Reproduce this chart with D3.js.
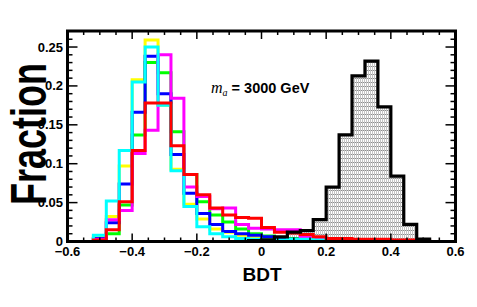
<!DOCTYPE html>
<html>
<head>
<meta charset="utf-8">
<script src="https://cdn.jsdelivr.net/npm/d3@7"></script>
<style>
  body { margin: 0; background: #fff; }
  text { font-family: "Liberation Sans", Arial, sans-serif; font-weight: bold; }
</style>
</head>
<body>
<div id="chart"></div>
<script>
//Histogram binning: 30 bins of 0.04 between -0.6 and 0.6
const xMin = -0.6, binWidth = 0.04

//Fractions per bin (bin 0 = [-0.6,-0.56])
const yellowVals  = [0,0,0.006,0.032,0.097,0.208,0.259,0.175,0.093,0.048,0.029,0.016,0.012,0.008,0.006,0.004,0.003,0.002,0.002,0.001,0,0,0,0,0,0,0,0,0,0]
const greenVals   = [0,0,0.002,0.010,0.047,0.137,0.230,0.217,0.141,0.086,0.051,0.034,0.025,0.016,0.010,0.007,0.005,0.004,0.002,0.001,0,0,0,0,0,0,0,0,0,0]
const blueVals    = [0,0,0.004,0.024,0.074,0.166,0.238,0.190,0.112,0.062,0.036,0.022,0.013,0.010,0.008,0.006,0.004,0.003,0.002,0.001,0.001,0,0,0,0,0,0,0,0,0]
const magentaVals = [0,0,0.003,0.028,0.040,0.113,0.143,0.240,0.184,0.070,0.058,0.042,0.043,0.022,0.017,0.016,0.015,0.015,0.006,0.003,0.002,0.001,0,0,0,0,0,0,0,0]
const cyanVals    = [0,0,0.008,0.052,0.117,0.205,0.250,0.175,0.091,0.045,0.019,0.010,0.006,0.004,0.003,0.002,0.002,0.003,0.003,0.002,0.001,0,0,0,0,0,0,0,0,0]
const redVals     = [0,0,0.002,0.015,0.051,0.117,0.178,0.178,0.123,0.086,0.060,0.043,0.034,0.031,0.030,0.018,0.012,0.011,0.009,0.006,0.004,0.004,0.003,0.003,0.003,0.002,0.002,0.001,0,0]
const signalVals  = [0,0,0,0,0,0,0,0,0,0,0,0,0,0,0.001,0.002,0.006,0.012,0.014,0.028,0.070,0.137,0.213,0.232,0.173,0.084,0.022,0.003,0,0]

//background draw order, signal last
const bkgSeries = [
  {name: "yellow", vals: yellowVals, color: "#ffff00"},
  {name: "green", vals: greenVals, color: "#00ff00"},
  {name: "blue", vals: blueVals, color: "#0000ff"},
  {name: "magenta", vals: magentaVals, color: "#ff00ff"},
  {name: "cyan", vals: cyanVals, color: "#00ffff"},
  {name: "red", vals: redVals, color: "#ff0000"}
]

const xTicks = [-0.6, -0.4, -0.2, 0, 0.2, 0.4, 0.6]
const yTicks = [0, 0.05, 0.1, 0.15, 0.2, 0.25]

const W = 477, H = 307
const frame = {left: 67.5, right: 455.5, top: 31, bottom: 241.5}

const svg = d3.select("#chart").append("svg")
  .attr("width", W).attr("height", H)

const xScale = d3.scaleLinear().domain([-0.6, 0.6]).range([frame.left, frame.right])
const yScale = d3.scaleLinear().domain([0, 0.2706]).range([frame.bottom, frame.top])

//fill pattern for the signal: light vertical hatch + sparse dots
const defs = svg.append("defs")
const pat = defs.append("pattern")
  .attr("id", "sigfill")
  .attr("patternUnits", "userSpaceOnUse")
  .attr("width", 2).attr("height", 4)
pat.append("rect").attr("x", 0).attr("y", 0).attr("width", 1).attr("height", 4).attr("fill", "#c4c4c4")
pat.append("rect").attr("x", 1).attr("y", 2).attr("width", 1).attr("height", 1).attr("fill", "#8c8c8c")

defs.append("clipPath").attr("id", "plotclip")
  .append("rect")
  .attr("x", frame.left).attr("y", frame.top)
  .attr("width", frame.right - frame.left).attr("height", frame.bottom - frame.top)

//step outline of a histogram
function stepPoints(vals) {
  let pts = [[xMin, 0]]
  vals.forEach((v, i) => {
    let x0 = xMin + i * binWidth
    pts.push([x0, v])
    pts.push([x0 + binWidth, v])
  })
  pts.push([xMin + vals.length * binWidth, 0])
  return pts
}

const line = d3.line().x(d => xScale(d[0])).y(d => yScale(d[1]))

const plot = svg.append("g").attr("clip-path", "url(#plotclip)")

//signal fill first
plot.append("path")
  .attr("d", line(stepPoints(signalVals)) + "Z")
  .attr("fill", "url(#sigfill)")
  .attr("stroke", "none")

bkgSeries.forEach(s => {
  plot.append("path")
    .attr("d", line(stepPoints(s.vals)))
    .attr("fill", "none")
    .attr("stroke", s.color)
    .attr("stroke-width", 3)
})

plot.append("path")
  .attr("d", line(stepPoints(signalVals)))
  .attr("fill", "none")
  .attr("stroke", "#000")
  .attr("stroke-width", 3.2)

//axes: ROOT style frame with inward ticks on all four sides
const axes = svg.append("g")

const xMinor = d3.range(-0.55, 0.6, 0.05).filter(t => !xTicks.some(m => Math.abs(m - t) < 1e-6))
const yMinor = d3.range(0.01, 0.27, 0.01).filter(t => !yTicks.some(m => Math.abs(m - t) < 1e-6))

function xTick(t, len) {
  let x = xScale(t)
  axes.append("line").attr("x1", x).attr("x2", x).attr("y1", frame.bottom).attr("y2", frame.bottom - len)
    .attr("stroke", "#000").attr("stroke-width", 1.5)
  axes.append("line").attr("x1", x).attr("x2", x).attr("y1", frame.top).attr("y2", frame.top + len)
    .attr("stroke", "#000").attr("stroke-width", 1.5)
}
function yTick(t, len) {
  let y = yScale(t)
  axes.append("line").attr("x1", frame.left).attr("x2", frame.left + len).attr("y1", y).attr("y2", y)
    .attr("stroke", "#000").attr("stroke-width", 1.5)
  axes.append("line").attr("x1", frame.right).attr("x2", frame.right - len).attr("y1", y).attr("y2", y)
    .attr("stroke", "#000").attr("stroke-width", 1.5)
}
xTicks.forEach(t => xTick(t, 8))
xMinor.forEach(t => xTick(t, 4))
yTicks.forEach(t => yTick(t, 10))
yMinor.forEach(t => yTick(t, 5))

axes.append("rect")
  .attr("x", frame.left).attr("y", frame.top)
  .attr("width", frame.right - frame.left).attr("height", frame.bottom - frame.top)
  .attr("fill", "none").attr("stroke", "#000").attr("stroke-width", 3)

//tick labels
const fmt = d => d === 0 ? "0" : d3.format("")(d).replace("-", "\u2212")
xTicks.forEach(t => {
  axes.append("text")
    .attr("x", xScale(t)).attr("y", 256)
    .attr("text-anchor", "middle")
    .attr("font-size", 13)
    .text(fmt(+t.toFixed(2)))
})
yTicks.forEach(t => {
  axes.append("text")
    .attr("x", 63).attr("y", yScale(t) + 4.5)
    .attr("text-anchor", "end")
    .attr("font-size", 13)
    .text(fmt(+t.toFixed(2)))
})

//titles
svg.append("text")
  .attr("x", 262).attr("y", 281)
  .attr("text-anchor", "middle")
  .attr("font-size", 19)
  .text("BDT")

//big y title, glyphs stretched across the margin like the original
svg.append("text")
  .attr("transform", "translate(46,134) rotate(-90) scale(1,1.4)")
  .attr("text-anchor", "middle")
  .attr("font-size", 36)
  .text("Fraction")

//mass label
let lab = svg.append("text").attr("x", 211).attr("y", 93)
lab.append("tspan")
  .attr("font-family", "Liberation Serif, serif")
  .attr("font-style", "italic").attr("font-weight", "normal")
  .attr("font-size", 16).text("m")
lab.append("tspan")
  .attr("font-family", "Liberation Serif, serif")
  .attr("font-style", "italic").attr("font-weight", "normal")
  .attr("font-size", 10).attr("dy", 3).text("a")
lab.append("tspan")
  .attr("font-size", 14.5).attr("dy", -3).text(" = 3000 GeV")
</script>
</body>
</html>
